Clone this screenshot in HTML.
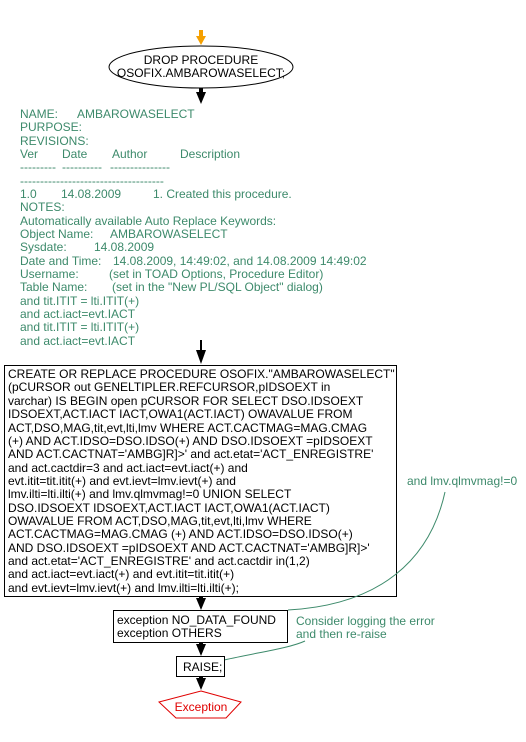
<!DOCTYPE html>
<html><head><style>
body{margin:0;background:#fff;}
svg text{font-family:"Liberation Sans",sans-serif;font-size:12px;white-space:pre;}
.g{fill:#3d8a6b}
</style></head><body>
<svg width="526" height="737" viewBox="0 0 526 737" xmlns="http://www.w3.org/2000/svg">
<g fill="#f5a000"><rect x="199" y="30" width="4" height="8"/><polygon points="196,36 206,36 201,45"/></g>
<ellipse cx="201" cy="67" rx="92" ry="21" fill="#fff" stroke="#000"/>
<text x="201" y="64" text-anchor="middle">DROP PROCEDURE</text>
<text x="201" y="77" text-anchor="middle">OSOFIX.AMBAROWASELECT;</text>
<g fill="#000">
<rect x="199" y="88" width="4" height="6"/><polygon points="196,92 206,92 201,104"/>
<rect x="200" y="340" width="2" height="10"/><polygon points="196,350 206,350 201,364"/>
<rect x="199" y="596" width="4" height="4"/><polygon points="196,598 206,598 201,610"/>
<rect x="199" y="642" width="4" height="4"/><polygon points="196,644 206,644 201,656"/>
<rect x="199" y="676" width="4" height="4"/><polygon points="196,678 206,678 201,690"/>
</g>
<g class="g">
<text x="20" y="118">NAME:</text><text x="77" y="118">AMBAROWASELECT</text>
<text x="20" y="131">PURPOSE:</text>
<text x="20" y="145">REVISIONS:</text>
<text x="20" y="158">Ver</text><text x="62" y="158">Date</text><text x="112" y="158">Author</text><text x="180" y="158">Description</text>
<text x="20" y="171">---------</text><text x="62" y="171">----------</text><text x="110" y="171">---------------</text>
<text x="20" y="185">------------------------------------</text>
<text x="20" y="198">1.0</text><text x="61" y="198">14.08.2009</text><text x="153" y="198">1. Created this procedure.</text>
<text x="20" y="211">NOTES:</text>
<text x="20" y="225">Automatically available Auto Replace Keywords:</text>
<text x="20" y="238">Object Name:</text><text x="110" y="238">AMBAROWASELECT</text>
<text x="20" y="251">Sysdate:</text><text x="94" y="251">14.08.2009</text>
<text x="20" y="265">Date and Time:</text><text x="113" y="265">14.08.2009, 14:49:02, and 14.08.2009 14:49:02</text>
<text x="20" y="278">Username:</text><text x="109" y="278">(set in TOAD Options, Procedure Editor)</text>
<text x="20" y="291">Table Name:</text><text x="112" y="291">(set in the "New PL/SQL Object" dialog)</text>
<text x="20" y="305">and tit.ITIT = lti.ITIT(+)</text>
<text x="20" y="318">and act.iact=evt.IACT</text>
<text x="20" y="331">and tit.ITIT = lti.ITIT(+)</text>
<text x="20" y="345">and act.iact=evt.IACT</text>
<text x="407" y="485">and lmv.qlmvmag!=0</text>
<text x="296" y="625">Consider logging the error</text>
<text x="296" y="638">and then re-raise</text>
</g>
<rect x="4.5" y="365.5" width="392" height="231" fill="#fff" stroke="#000"/>
<g>
<text x="8" y="378">CREATE OR REPLACE PROCEDURE OSOFIX."AMBAROWASELECT"</text>
<text x="8" y="391">(pCURSOR out GENELTIPLER.REFCURSOR,pIDSOEXT in</text>
<text x="8" y="405">varchar) IS BEGIN open pCURSOR FOR SELECT DSO.IDSOEXT</text>
<text x="8" y="418">IDSOEXT,ACT.IACT IACT,OWA1(ACT.IACT) OWAVALUE FROM</text>
<text x="8" y="432">ACT,DSO,MAG,tit,evt,lti,lmv WHERE ACT.CACTMAG=MAG.CMAG</text>
<text x="8" y="445">(+) AND ACT.IDSO=DSO.IDSO(+) AND DSO.IDSOEXT =pIDSOEXT</text>
<text x="8" y="458">AND ACT.CACTNAT='AMBG]R]&gt;' and act.etat='ACT_ENREGISTRE'</text>
<text x="8" y="472">and act.cactdir=3 and act.iact=evt.iact(+) and</text>
<text x="8" y="485">evt.itit=tit.itit(+) and evt.ievt=lmv.ievt(+) and</text>
<text x="8" y="498">lmv.ilti=lti.ilti(+) and lmv.qlmvmag!=0 UNION SELECT</text>
<text x="8" y="512">DSO.IDSOEXT IDSOEXT,ACT.IACT IACT,OWA1(ACT.IACT)</text>
<text x="8" y="525">OWAVALUE FROM ACT,DSO,MAG,tit,evt,lti,lmv WHERE</text>
<text x="8" y="538">ACT.CACTMAG=MAG.CMAG (+) AND ACT.IDSO=DSO.IDSO(+)</text>
<text x="8" y="552">AND DSO.IDSOEXT =pIDSOEXT AND ACT.CACTNAT='AMBG]R]&gt;'</text>
<text x="8" y="565">and act.etat='ACT_ENREGISTRE' and act.cactdir in(1,2)</text>
<text x="8" y="578">and act.iact=evt.iact(+) and evt.itit=tit.itit(+)</text>
<text x="8" y="592">and evt.ievt=lmv.ievt(+) and lmv.ilti=lti.ilti(+);</text>
</g>
<path d="M288,610 C380,605 430,560 445,492" fill="none" stroke="#3d8a6b"/>
<path d="M224,660 C260,652 290,648 305,641" fill="none" stroke="#3d8a6b"/>
<rect x="113.5" y="610.5" width="174" height="32" fill="#fff" stroke="#000"/>
<text x="117" y="624">exception NO_DATA_FOUND</text>
<text x="117" y="637">exception OTHERS</text>
<rect x="176.5" y="656.5" width="48" height="20" fill="#fff" stroke="#000"/>
<text x="183" y="671">RAISE;</text>
<polygon points="201,691 241,702 226,718 176,718 159,702" fill="#fff" stroke="#e00000"/>
<text x="201" y="711" text-anchor="middle" fill="#e00000">Exception</text>
</svg>
</body></html>
